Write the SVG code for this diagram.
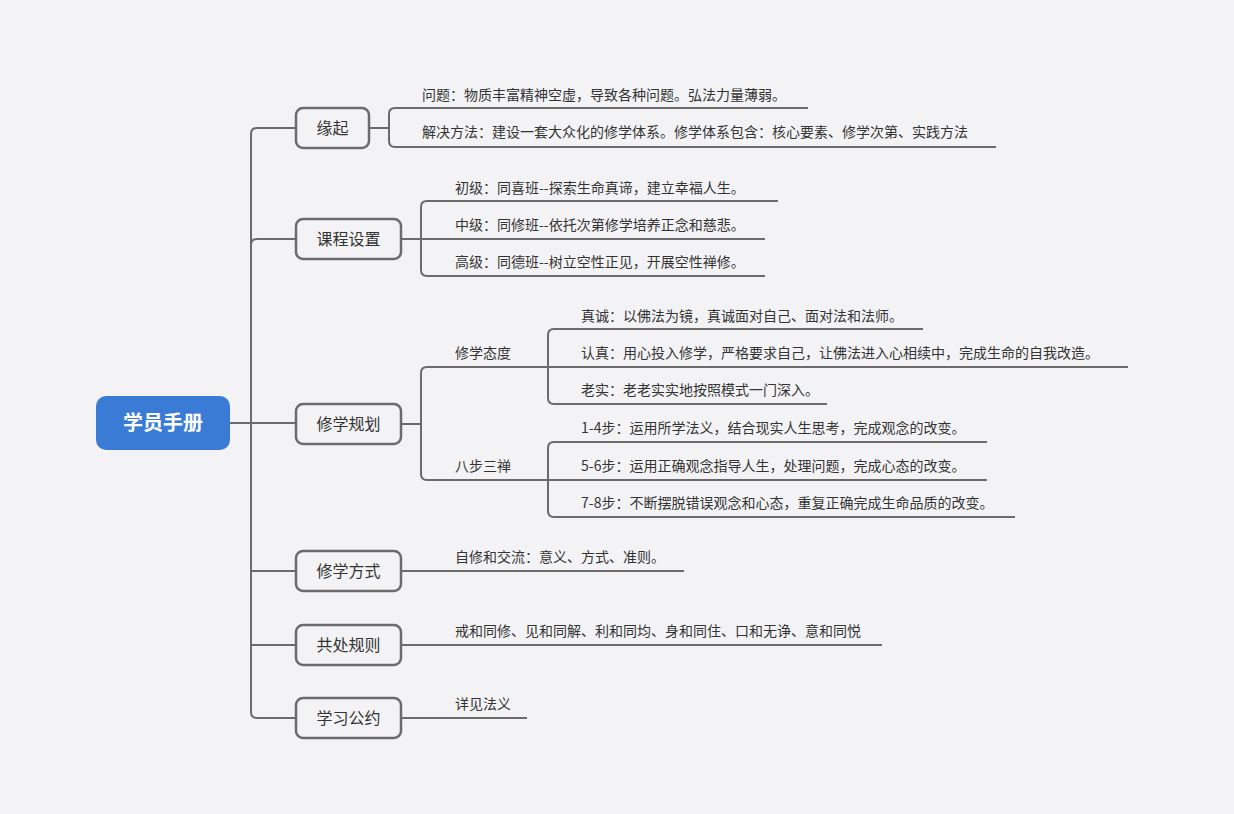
<svg xmlns="http://www.w3.org/2000/svg" width="1234" height="814" viewBox="0 0 1234 814">
<style>
.c{fill:none;stroke:#6b6b6b;stroke-width:2}
.b{fill:#f3f3f6;stroke:#6b6b6b;stroke-width:2.5}
.t{font-family:"Noto Sans CJK SC",sans-serif;font-size:14px;fill:#333}
.n{font-family:"Noto Sans CJK SC",sans-serif;font-size:16px;fill:#333;text-anchor:middle}
</style>
<rect width="1234" height="814" fill="#f3f3f6"/>
<g id="connectors">
<path class="c" d="M230 423H251M251 423V134Q251 128 257 128H296M251 423V245Q251 239 257 239H296M251 423H296M251 423V712Q251 718 257 718H296M251 571H296M251 645H296"/>
<path class="c" d="M369 128H389M389 128V114Q389 108 395 108H808M389 128V141Q389 147 395 147H996"/>
<path class="c" d="M401 239H421M421 239V207Q421 201 427 201H778M421 239H765M421 239V270Q421 276 427 276H765"/>
<path class="c" d="M401 424H421M421 424V373Q421 367 427 367H548M421 424V474Q421 480 427 480H548"/>
<path class="c" d="M548 367V335Q548 329 554 329H923M548 367H1128M548 367V398Q548 404 554 404H827"/>
<path class="c" d="M548 480V448Q548 442 554 442H987M548 480H987M548 480V511Q548 517 554 517H1015"/>
<path class="c" d="M401 571H684M401 645H882M401 718H527"/>
</g>
<g id="root"><rect x="96" y="396" width="134" height="54" rx="10" fill="#3a7bd5"/><text x="163" y="430" font-family="Noto Sans CJK SC,sans-serif" font-size="20" font-weight="bold" fill="#fff" text-anchor="middle">学员手册</text></g>
<g id="n1"><rect class="b" x="296" y="108" width="73" height="40" rx="7"/><text class="n" x="332.5" y="134">缘起</text></g>
<g id="n2"><rect class="b" x="296" y="219" width="105" height="40" rx="7"/><text class="n" x="348.5" y="245">课程设置</text></g>
<g id="n3"><rect class="b" x="296" y="404" width="105" height="40" rx="7"/><text class="n" x="348.5" y="430">修学规划</text></g>
<g id="n4"><rect class="b" x="296" y="551" width="105" height="40" rx="7"/><text class="n" x="348.5" y="577">修学方式</text></g>
<g id="n5"><rect class="b" x="296" y="625" width="105" height="40" rx="7"/><text class="n" x="348.5" y="651">共处规则</text></g>
<g id="n6"><rect class="b" x="296" y="698" width="105" height="40" rx="7"/><text class="n" x="348.5" y="724">学习公约</text></g>
<g id="leaves">
<text class="t" x="422" y="100">问题：物质丰富精神空虚，导致各种问题。弘法力量薄弱。</text>
<text class="t" x="422" y="137">解决方法：建设一套大众化的修学体系。修学体系包含：核心要素、修学次第、实践方法</text>
<text class="t" x="455" y="193">初级：同喜班--探索生命真谛，建立幸福人生。</text>
<text class="t" x="455" y="230">中级：同修班--依托次第修学培养正念和慈悲。</text>
<text class="t" x="455" y="267">高级：同德班--树立空性正见，开展空性禅修。</text>
<text class="t" x="455" y="358">修学态度</text>
<text class="t" x="455" y="471">八步三禅</text>
<text class="t" x="581" y="321">真诚：以佛法为镜，真诚面对自己、面对法和法师。</text>
<text class="t" x="581" y="358">认真：用心投入修学，严格要求自己，让佛法进入心相续中，完成生命的自我改造。</text>
<text class="t" x="581" y="395">老实：老老实实地按照模式一门深入。</text>
<text class="t" x="581" y="433">1-4步：运用所学法义，结合现实人生思考，完成观念的改变。</text>
<text class="t" x="581" y="471">5-6步：运用正确观念指导人生，处理问题，完成心态的改变。</text>
<text class="t" x="581" y="508">7-8步：不断摆脱错误观念和心态，重复正确完成生命品质的改变。</text>
<text class="t" x="455" y="562">自修和交流：意义、方式、准则。</text>
<text class="t" x="455" y="636">戒和同修、见和同解、利和同均、身和同住、口和无诤、意和同悦</text>
<text class="t" x="455" y="709">详见法义</text>
</g>
</svg>
